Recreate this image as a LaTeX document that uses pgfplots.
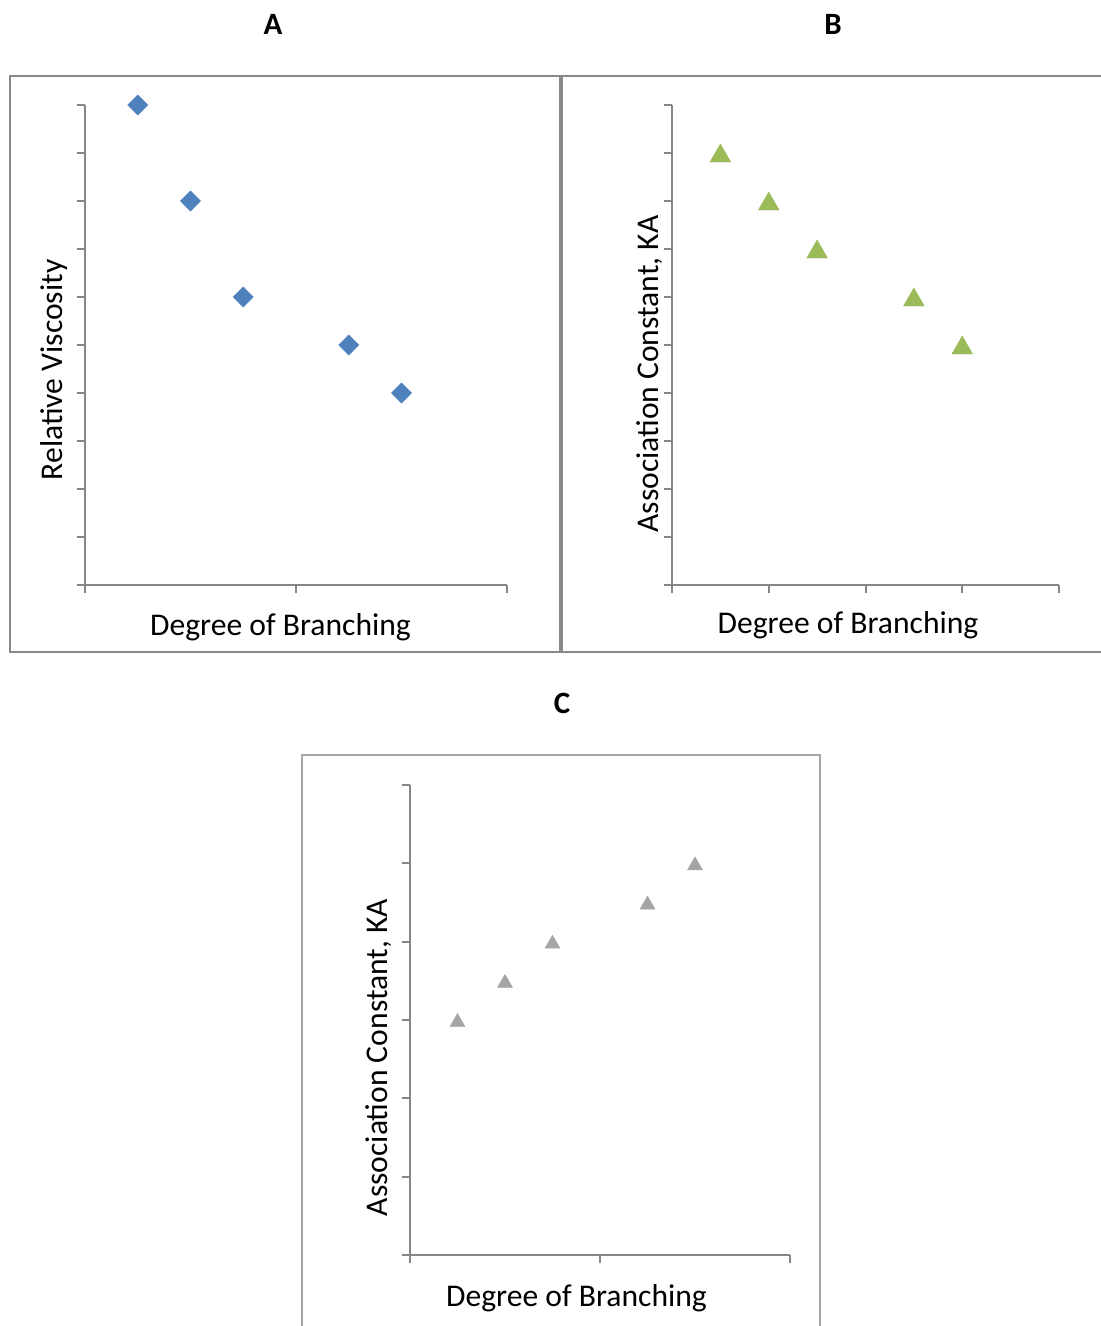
\documentclass[border=0pt]{standalone}
\usepackage{fontspec}
\setmainfont{Carlito}
\usepackage{pgfplots}
\pgfplotsset{compat=1.18}
\definecolor{axgray}{HTML}{868686}
\definecolor{framegray}{HTML}{898989}
\definecolor{framegrayC}{HTML}{A6A6A6}
\definecolor{blueA}{HTML}{4F81BD}
\definecolor{greenB}{HTML}{9BBB59}
\definecolor{grayC}{HTML}{A5A5A5}
\pgfplotsset{
  excel/.style={
    scale only axis, clip=false,
    anchor=south west,
    axis lines*=left,
    axis line style={draw=axgray, line width=1bp, -},
    tick align=outside,
    major tick length=4bp,
    tick style={draw=axgray, line width=1bp},
    xticklabels={}, yticklabels={},
  }
}
\newcommand{\lblfont}{\fontsize{15.8bp}{19bp}\selectfont}
\newcommand{\ttlfont}{\bfseries\fontsize{15.5bp}{18bp}\selectfont}
\begin{document}
\begin{tikzpicture}
\useasboundingbox (0,0) rectangle (550.5bp,-663bp);
% frames
\draw[framegray, line width=1bp] (5bp,-38bp) rectangle (280bp,-326bp);
\draw[framegray, line width=1bp] (281bp,-38bp) rectangle (565bp,-326bp);
\draw[framegrayC, line width=1bp] (151bp,-377.5bp) rectangle (410bp,-670bp);
% titles
\node[font=\ttlfont, anchor=base] at (136.5bp,-17bp) {A};
\node[font=\ttlfont, anchor=base] at (416.5bp,-17bp) {B};
\node[font=\ttlfont, anchor=base] at (281bp,-356.5bp) {C};
% axis labels
\node[font=\lblfont, anchor=base] at (140.25bp,-317.5bp) {Degree of Branching};
\node[font=\lblfont, anchor=base] at (424bp,-316.5bp) {Degree of Branching};
\node[font=\lblfont, anchor=base] at (288.25bp,-653bp) {Degree of Branching};
\node[font=\lblfont, anchor=base, rotate=90] at (31bp,-185bp) {Relative Viscosity};
\node[font=\lblfont, anchor=base, rotate=90] at (329bp,-187bp) {Association Constant, KA};
\node[font=\lblfont, anchor=base, rotate=90] at (193.5bp,-528.75bp) {Association Constant, KA};
% Panel A
\begin{axis}[excel, at={(42.5bp,-292.5bp)}, width=211bp, height=240bp,
  xmin=0, xmax=2, xtick={0,1,2}, ymin=0, ymax=10, ytick={0,1,...,10}]
\addplot[color=blueA, only marks, mark=square*, mark size=3.6bp,
  mark options={solid, rotate=45, fill=blueA, draw=blueA, line width=0.2bp}]
  coordinates {(0.25,10) (0.5,8) (0.75,6) (1.25,5) (1.5,4)};
\end{axis}
% Panel B
\begin{axis}[excel, at={(336bp,-292.5bp)}, width=193.5bp, height=240bp,
  xmin=0, xmax=4, xtick={0,1,2,3,4}, ymin=0, ymax=10, ytick={0,1,...,10}]
\addplot[color=greenB, only marks, mark=triangle*, mark size=6bp,
  mark options={solid, fill=greenB, draw=greenB, line width=0.2bp, yshift=-1.5bp}]
  coordinates {(0.5,9) (1,8) (1.5,7) (2.5,6) (3,5)};
\end{axis}
% Panel C
\begin{axis}[excel, at={(205bp,-627.5bp)}, width=190bp, height=235bp,
  xmin=0, xmax=2, xtick={0,1,2}, ymin=0, ymax=6, ytick={0,1,...,6}]
\addplot[color=grayC, only marks, mark=triangle*, mark size=4.33bp,
  mark options={solid, fill=grayC, draw=grayC, line width=0.2bp, yshift=-1.1bp}]
  coordinates {(0.25,3) (0.5,3.5) (0.75,4) (1.25,4.5) (1.5,5)};
\end{axis}
\end{tikzpicture}
\end{document}
